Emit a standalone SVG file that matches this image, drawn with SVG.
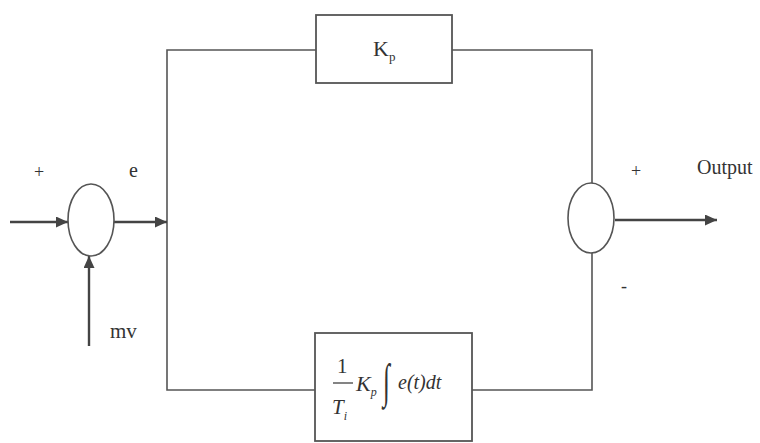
<svg xmlns="http://www.w3.org/2000/svg" width="760" height="443" viewBox="0 0 760 443">
<style>
.ln{fill:none;stroke:#555;stroke-width:1.6}
.ar{fill:none;stroke:#444;stroke-width:2.4}
.bx{fill:#fff;stroke:#555;stroke-width:1.8}
.sj{fill:#fff;stroke:#555;stroke-width:1.6}
text{font-family:"Liberation Serif","Times New Roman",serif;fill:#333}
.it{font-style:italic}
</style>
<defs>
<marker id="ah" markerUnits="userSpaceOnUse" markerWidth="13" markerHeight="11" refX="12" refY="5.5" orient="auto">
<path d="M0,0 L12,5.5 L0,11 z" fill="#444"/>
</marker>
</defs>
<rect width="760" height="443" fill="#fff"/>
<g id="connectors">
<path class="ln" d="M167,222 L167,50 L316,50"/>
<path class="ln" d="M452,50 L592,50 L592,183"/>
<path class="ln" d="M167,222 L167,390 L315,390"/>
<path class="ln" d="M472,390 L592,390 L592,253"/>
<line class="ar" x1="10" y1="222" x2="68" y2="222" marker-end="url(#ah)"/>
<line class="ar" x1="114" y1="222" x2="167" y2="222" marker-end="url(#ah)"/>
<line class="ar" x1="89" y1="346" x2="89" y2="256" marker-end="url(#ah)"/>
<line class="ar" x1="615" y1="220" x2="717" y2="220" marker-end="url(#ah)"/>
</g>
<g id="sum1">
<ellipse class="sj" cx="91" cy="220" rx="23" ry="36"/>
</g>
<g id="sum2">
<ellipse class="sj" cx="591" cy="218" rx="23" ry="35"/>
</g>
<g id="kp">
<rect class="bx" x="316" y="15" width="136" height="68"/>
<text x="373" y="56" font-size="22">K<tspan font-size="13" dy="5">p</tspan></text>
</g>
<g id="integral">
<rect class="bx" x="315" y="333" width="157" height="108"/>
<text x="337" y="373" font-size="21">1</text>
<line x1="333" y1="383" x2="353" y2="383" stroke="#333" stroke-width="1.2"/>
<text class="it" x="332" y="414" font-size="21">T<tspan font-size="12" dy="6">i</tspan></text>
<text class="it" x="356" y="391" font-size="22">K<tspan font-size="12" dy="5">p</tspan></text>
<text class="it" transform="translate(383,397) scale(0.9,1.7)" font-size="28">∫</text>
<text class="it" x="398" y="389" font-size="20">e(t)dt</text>
</g>
<g id="labels">
<text x="34" y="178" font-size="18">+</text>
<text x="129" y="177" font-size="20">e</text>
<text x="110" y="338" font-size="21">mv</text>
<text x="631" y="177" font-size="18">+</text>
<text x="621" y="292" font-size="18">-</text>
<text x="697" y="174" font-size="20">Output</text>
</g>
</svg>
